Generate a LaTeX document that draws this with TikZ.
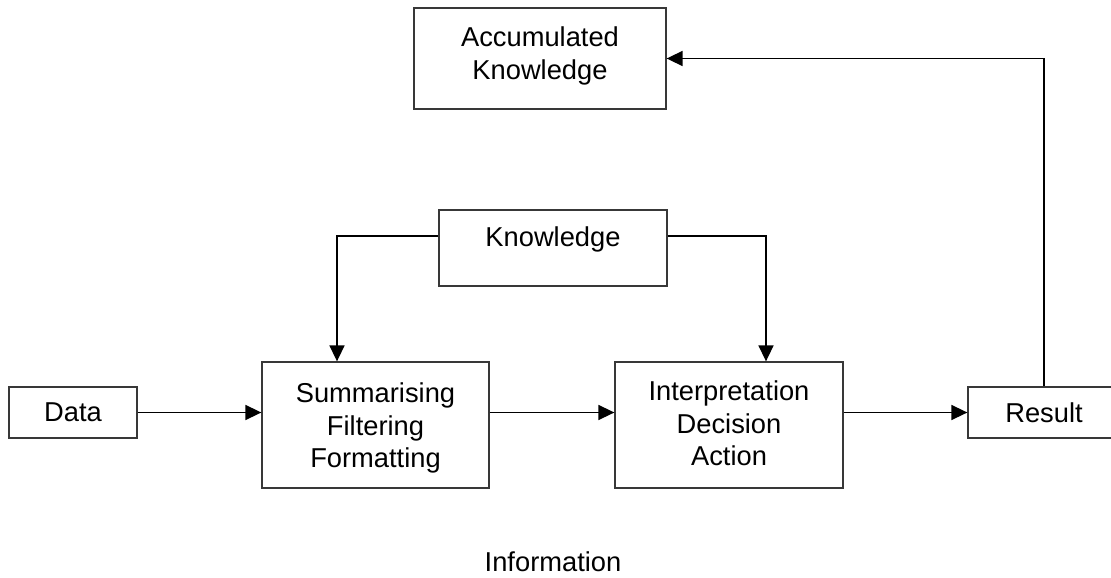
\documentclass[tikz,border=0pt]{standalone}
\usepackage{fontspec}
\setmainfont{Liberation Sans}
\usetikzlibrary{arrows.meta}
\definecolor{boxline}{HTML}{383838}
\begin{document}
\begin{tikzpicture}[x=1pt,y=-1pt,
  box/.style={draw=boxline,line width=1.3pt,rectangle,inner sep=0pt},
  label/.style={inner sep=0pt,anchor=north,align=center,
    font=\fontsize{27.3}{32.5}\selectfont},
  arr/.style={draw=black,line width=1.6pt,-{Triangle[length=16pt,width=15pt]}}]
\useasboundingbox (0,0) rectangle (1111,578);
\clip (0,0) rectangle (1111,578);

% boxes
\node[box,minimum width=252pt,minimum height=101pt] (acc)    at (540,58.5)  {};
\node[box,minimum width=228pt,minimum height=76pt]  (know)   at (553,248)   {};
\node[box,minimum width=227pt,minimum height=126pt] (summ)   at (375.5,425) {};
\node[box,minimum width=228pt,minimum height=126pt] (interp) at (729,425)   {};
\node[box,minimum width=128pt,minimum height=51pt]  (data)   at (73,412.5)  {};
\node[box,minimum width=152pt,minimum height=51pt]  (res)    at (1044,412.5){};

% texts
\node[label] (acct)    at (540,27)   {Accumulated\\Knowledge};
\node[label] (knowt)   at (553,227)  {Knowledge};
\node[label] (summt)   at (375.5,383){Summarising\\Filtering\\Formatting};
\node[label] (interpt) at (729,381)  {Interpretation\\Decision\\Action};
\node[label] (datat)   at (73,403)   {Data};
\node[label] (rest)    at (1044,403) {Result};
\node[label] (info)    at (553,552)  {Information};

% bend points of the knowledge feeds
\coordinate (kl) at (337,236);
\coordinate (kr) at (766,236);

% connectors
\draw[arr] (data.east) -- (summ.west |- data.east);
\draw[arr] (summ.east |- data.east) -- (interp.west |- data.east);
\draw[arr] (interp.east |- data.east) -- (res.west);
\draw[arr] (res.north) |- (acc.east);
\draw[arr] (know.west |- kl) -| (kl |- summ.north);
\draw[arr] (know.east |- kr) -| (kr |- interp.north);
\end{tikzpicture}
\end{document}
